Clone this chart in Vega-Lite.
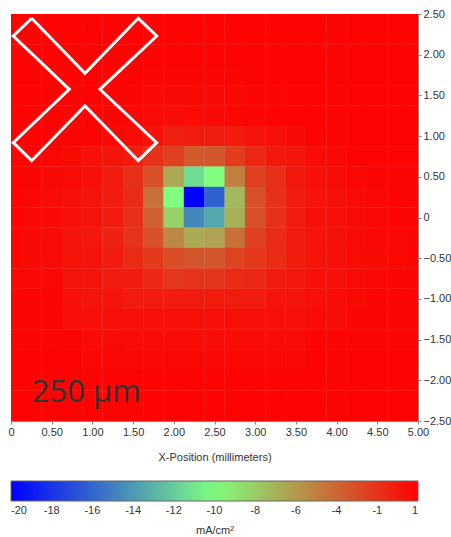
{
"$schema": "https://vega.github.io/schema/vega-lite/v6.json",
"width": 407, "height": 407,
"autosize": "none",
"padding": {"left": 11, "top": 14, "right": 33, "bottom": 116},
"config": {"view": {"stroke": "#888", "strokeWidth": 1}, "font": "Liberation Sans"},
"layer": [
{"data": {"values": [
{"x":0,"y":2.5,"v":0.85},{"x":0.25,"y":2.5,"v":0.85},{"x":0.5,"y":2.5,"v":0.85},{"x":0.75,"y":2.5,"v":0.85},{"x":1,"y":2.5,"v":0.85},{"x":1.25,"y":2.5,"v":0.85},{"x":1.5,"y":2.5,"v":0.85},{"x":1.75,"y":2.5,"v":0.85},{"x":2,"y":2.5,"v":0.85},{"x":2.25,"y":2.5,"v":0.85},{"x":2.5,"y":2.5,"v":0.85},{"x":2.75,"y":2.5,"v":0.85},{"x":3,"y":2.5,"v":0.85},{"x":3.25,"y":2.5,"v":0.85},{"x":3.5,"y":2.5,"v":0.85},{"x":3.75,"y":2.5,"v":0.85},{"x":4,"y":2.5,"v":0.85},{"x":4.25,"y":2.5,"v":0.85},{"x":4.5,"y":2.5,"v":0.85},{"x":4.75,"y":2.5,"v":0.85},{"x":5,"y":2.5,"v":0.85},
{"x":0,"y":2.25,"v":0.85},{"x":0.25,"y":2.25,"v":0.85},{"x":0.5,"y":2.25,"v":0.85},{"x":0.75,"y":2.25,"v":0.85},{"x":1,"y":2.25,"v":0.85},{"x":1.25,"y":2.25,"v":0.85},{"x":1.5,"y":2.25,"v":0.85},{"x":1.75,"y":2.25,"v":0.85},{"x":2,"y":2.25,"v":0.85},{"x":2.25,"y":2.25,"v":0.85},{"x":2.5,"y":2.25,"v":0.85},{"x":2.75,"y":2.25,"v":0.85},{"x":3,"y":2.25,"v":0.85},{"x":3.25,"y":2.25,"v":0.85},{"x":3.5,"y":2.25,"v":0.85},{"x":3.75,"y":2.25,"v":0.85},{"x":4,"y":2.25,"v":0.85},{"x":4.25,"y":2.25,"v":0.85},{"x":4.5,"y":2.25,"v":0.85},{"x":4.75,"y":2.25,"v":0.85},{"x":5,"y":2.25,"v":0.85},
{"x":0,"y":2,"v":0.85},{"x":0.25,"y":2,"v":0.85},{"x":0.5,"y":2,"v":0.85},{"x":0.75,"y":2,"v":0.85},{"x":1,"y":2,"v":0.85},{"x":1.25,"y":2,"v":0.85},{"x":1.5,"y":2,"v":0.85},{"x":1.75,"y":2,"v":0.85},{"x":2,"y":2,"v":0.85},{"x":2.25,"y":2,"v":0.85},{"x":2.5,"y":2,"v":0.85},{"x":2.75,"y":2,"v":0.85},{"x":3,"y":2,"v":0.85},{"x":3.25,"y":2,"v":0.85},{"x":3.5,"y":2,"v":0.85},{"x":3.75,"y":2,"v":0.85},{"x":4,"y":2,"v":0.85},{"x":4.25,"y":2,"v":0.85},{"x":4.5,"y":2,"v":0.85},{"x":4.75,"y":2,"v":0.85},{"x":5,"y":2,"v":0.85},
{"x":0,"y":1.75,"v":0.85},{"x":0.25,"y":1.75,"v":0.85},{"x":0.5,"y":1.75,"v":0.85},{"x":0.75,"y":1.75,"v":0.85},{"x":1,"y":1.75,"v":0.85},{"x":1.25,"y":1.75,"v":0.85},{"x":1.5,"y":1.75,"v":0.85},{"x":1.75,"y":1.75,"v":0.75},{"x":2,"y":1.75,"v":0.75},{"x":2.25,"y":1.75,"v":0.75},{"x":2.5,"y":1.75,"v":0.75},{"x":2.75,"y":1.75,"v":0.75},{"x":3,"y":1.75,"v":0.85},{"x":3.25,"y":1.75,"v":0.85},{"x":3.5,"y":1.75,"v":0.85},{"x":3.75,"y":1.75,"v":0.85},{"x":4,"y":1.75,"v":0.85},{"x":4.25,"y":1.75,"v":0.85},{"x":4.5,"y":1.75,"v":0.85},{"x":4.75,"y":1.75,"v":0.85},{"x":5,"y":1.75,"v":0.85},
{"x":0,"y":1.5,"v":0.85},{"x":0.25,"y":1.5,"v":0.85},{"x":0.5,"y":1.5,"v":0.85},{"x":0.75,"y":1.5,"v":0.85},{"x":1,"y":1.5,"v":0.85},{"x":1.25,"y":1.5,"v":0.75},{"x":1.5,"y":1.5,"v":0.75},{"x":1.75,"y":1.5,"v":0.6},{"x":2,"y":1.5,"v":0.6},{"x":2.25,"y":1.5,"v":0.6},{"x":2.5,"y":1.5,"v":0.6},{"x":2.75,"y":1.5,"v":0.6},{"x":3,"y":1.5,"v":0.75},{"x":3.25,"y":1.5,"v":0.75},{"x":3.5,"y":1.5,"v":0.85},{"x":3.75,"y":1.5,"v":0.85},{"x":4,"y":1.5,"v":0.85},{"x":4.25,"y":1.5,"v":0.85},{"x":4.5,"y":1.5,"v":0.85},{"x":4.75,"y":1.5,"v":0.85},{"x":5,"y":1.5,"v":0.85},
{"x":0,"y":1.25,"v":0.85},{"x":0.25,"y":1.25,"v":0.85},{"x":0.5,"y":1.25,"v":0.85},{"x":0.75,"y":1.25,"v":0.85},{"x":1,"y":1.25,"v":0.85},{"x":1.25,"y":1.25,"v":0.75},{"x":1.5,"y":1.25,"v":0.7},{"x":1.75,"y":1.25,"v":0.5},{"x":2,"y":1.25,"v":0.45},{"x":2.25,"y":1.25,"v":0.55},{"x":2.5,"y":1.25,"v":0.6},{"x":2.75,"y":1.25,"v":0.7},{"x":3,"y":1.25,"v":0.75},{"x":3.25,"y":1.25,"v":0.85},{"x":3.5,"y":1.25,"v":0.85},{"x":3.75,"y":1.25,"v":0.85},{"x":4,"y":1.25,"v":0.85},{"x":4.25,"y":1.25,"v":0.85},{"x":4.5,"y":1.25,"v":0.85},{"x":4.75,"y":1.25,"v":0.85},{"x":5,"y":1.25,"v":0.85},
{"x":0,"y":1,"v":0.85},{"x":0.25,"y":1,"v":0.85},{"x":0.5,"y":1,"v":0.85},{"x":0.75,"y":1,"v":0.85},{"x":1,"y":1,"v":0.85},{"x":1.25,"y":1,"v":0.7},{"x":1.5,"y":1,"v":0.5},{"x":1.75,"y":1,"v":0.3},{"x":2,"y":1,"v":-0.3},{"x":2.25,"y":1,"v":-0.2},{"x":2.5,"y":1,"v":-0.2},{"x":2.75,"y":1,"v":-0.1},{"x":3,"y":1,"v":0.18},{"x":3.25,"y":1,"v":0.34},{"x":3.5,"y":1,"v":0.6},{"x":3.75,"y":1,"v":0.85},{"x":4,"y":1,"v":0.85},{"x":4.25,"y":1,"v":0.85},{"x":4.5,"y":1,"v":0.85},{"x":4.75,"y":1,"v":0.85},{"x":5,"y":1,"v":0.85},
{"x":0,"y":0.75,"v":0.85},{"x":0.25,"y":0.75,"v":0.85},{"x":0.5,"y":0.75,"v":0.75},{"x":0.75,"y":0.75,"v":0.6},{"x":1,"y":0.75,"v":0.34},{"x":1.25,"y":0.75,"v":0.18},{"x":1.5,"y":0.75,"v":-0.15},{"x":1.75,"y":0.75,"v":-0.98},{"x":2,"y":0.75,"v":-1.64},{"x":2.25,"y":0.75,"v":-2.7},{"x":2.5,"y":0.75,"v":-2.6},{"x":2.75,"y":0.75,"v":-1.5},{"x":3,"y":0.75,"v":-0.65},{"x":3.25,"y":0.75,"v":0},{"x":3.5,"y":0.75,"v":0.18},{"x":3.75,"y":0.75,"v":0.5},{"x":4,"y":0.75,"v":0.7},{"x":4.25,"y":0.75,"v":0.85},{"x":4.5,"y":0.75,"v":0.85},{"x":4.75,"y":0.75,"v":0.85},{"x":5,"y":0.75,"v":0.85},
{"x":0,"y":0.5,"v":0.85},{"x":0.25,"y":0.5,"v":0.75},{"x":0.5,"y":0.5,"v":0.6},{"x":0.75,"y":0.5,"v":0.5},{"x":1,"y":0.5,"v":0.34},{"x":1.25,"y":0.5,"v":-0.15},{"x":1.5,"y":0.5,"v":-0.98},{"x":1.75,"y":0.5,"v":-2.3},{"x":2,"y":0.5,"v":-5.9},{"x":2.25,"y":0.5,"v":-10.9},{"x":2.5,"y":0.5,"v":-9.4},{"x":2.75,"y":0.5,"v":-4.27},{"x":3,"y":0.5,"v":-1.64},{"x":3.25,"y":0.5,"v":-0.98},{"x":3.5,"y":0.5,"v":0},{"x":3.75,"y":0.5,"v":0.34},{"x":4,"y":0.5,"v":0.5},{"x":4.25,"y":0.5,"v":0.67},{"x":4.5,"y":0.5,"v":0.8},{"x":4.75,"y":0.5,"v":0.8},{"x":5,"y":0.5,"v":0.8},
{"x":0,"y":0.25,"v":0.8},{"x":0.25,"y":0.25,"v":0.67},{"x":0.5,"y":0.25,"v":0.5},{"x":0.75,"y":0.25,"v":0.34},{"x":1,"y":0.25,"v":0.18},{"x":1.25,"y":0.25,"v":-0.15},{"x":1.5,"y":0.25,"v":-0.8},{"x":1.75,"y":0.25,"v":-3.6},{"x":2,"y":0.25,"v":-9.5},{"x":2.25,"y":0.25,"v":-20},{"x":2.5,"y":0.25,"v":-16},{"x":2.75,"y":0.25,"v":-6.6},{"x":3,"y":0.25,"v":-2.3},{"x":3.25,"y":0.25,"v":-0.98},{"x":3.5,"y":0.25,"v":-0.15},{"x":3.75,"y":0.25,"v":0.18},{"x":4,"y":0.25,"v":0.34},{"x":4.25,"y":0.25,"v":0.5},{"x":4.5,"y":0.25,"v":0.67},{"x":4.75,"y":0.25,"v":0.8},{"x":5,"y":0.25,"v":0.8},
{"x":0,"y":0,"v":0.8},{"x":0.25,"y":0,"v":0.67},{"x":0.5,"y":0,"v":0.6},{"x":0.75,"y":0,"v":0.34},{"x":1,"y":0,"v":0.18},{"x":1.25,"y":0,"v":-0.15},{"x":1.5,"y":0,"v":-0.98},{"x":1.75,"y":0,"v":-2.95},{"x":2,"y":0,"v":-7.6},{"x":2.25,"y":0,"v":-14.4},{"x":2.5,"y":0,"v":-13.1},{"x":2.75,"y":0,"v":-6.25},{"x":3,"y":0,"v":-2.3},{"x":3.25,"y":0,"v":-0.98},{"x":3.5,"y":0,"v":-0.15},{"x":3.75,"y":0,"v":0.34},{"x":4,"y":0,"v":0.4},{"x":4.25,"y":0,"v":0.5},{"x":4.5,"y":0,"v":0.67},{"x":4.75,"y":0,"v":0.8},{"x":5,"y":0,"v":0.8},
{"x":0,"y":-0.25,"v":0.75},{"x":0.25,"y":-0.25,"v":0.6},{"x":0.5,"y":-0.25,"v":0.5},{"x":0.75,"y":-0.25,"v":0.18},{"x":1,"y":-0.25,"v":0},{"x":1.25,"y":-0.25,"v":-0.4},{"x":1.5,"y":-0.25,"v":-1.1},{"x":1.75,"y":-0.25,"v":-2.3},{"x":2,"y":-0.25,"v":-4.5},{"x":2.25,"y":-0.25,"v":-6},{"x":2.5,"y":-0.25,"v":-5.7},{"x":2.75,"y":-0.25,"v":-3.6},{"x":3,"y":-0.25,"v":-1.64},{"x":3.25,"y":-0.25,"v":-0.8},{"x":3.5,"y":-0.25,"v":-0.15},{"x":3.75,"y":-0.25,"v":0.18},{"x":4,"y":-0.25,"v":0.34},{"x":4.25,"y":-0.25,"v":0.5},{"x":4.5,"y":-0.25,"v":0.67},{"x":4.75,"y":-0.25,"v":0.67},{"x":5,"y":-0.25,"v":0.75},
{"x":0,"y":-0.5,"v":0.75},{"x":0.25,"y":-0.5,"v":0.6},{"x":0.5,"y":-0.5,"v":0.5},{"x":0.75,"y":-0.5,"v":0.18},{"x":1,"y":-0.5,"v":0.18},{"x":1.25,"y":-0.5,"v":-0.15},{"x":1.5,"y":-0.5,"v":-0.8},{"x":1.75,"y":-0.5,"v":-1.4},{"x":2,"y":-0.5,"v":-2.2},{"x":2.25,"y":-0.5,"v":-2.6},{"x":2.5,"y":-0.5,"v":-2.6},{"x":2.75,"y":-0.5,"v":-1.8},{"x":3,"y":-0.5,"v":-1.3},{"x":3.25,"y":-0.5,"v":-0.8},{"x":3.5,"y":-0.5,"v":-0.15},{"x":3.75,"y":-0.5,"v":0.18},{"x":4,"y":-0.5,"v":0.34},{"x":4.25,"y":-0.5,"v":0.5},{"x":4.5,"y":-0.5,"v":0.6},{"x":4.75,"y":-0.5,"v":0.67},{"x":5,"y":-0.5,"v":0.75},
{"x":0,"y":-0.75,"v":0.67},{"x":0.25,"y":-0.75,"v":0.67},{"x":0.5,"y":-0.75,"v":0.67},{"x":0.75,"y":-0.75,"v":0.18},{"x":1,"y":-0.75,"v":0.18},{"x":1.25,"y":-0.75,"v":-0.15},{"x":1.5,"y":-0.75,"v":-0.15},{"x":1.75,"y":-0.75,"v":-0.65},{"x":2,"y":-0.75,"v":-1.3},{"x":2.25,"y":-0.75,"v":-1.2},{"x":2.5,"y":-0.75,"v":-1.2},{"x":2.75,"y":-0.75,"v":-0.8},{"x":3,"y":-0.75,"v":-0.65},{"x":3.25,"y":-0.75,"v":-0.15},{"x":3.5,"y":-0.75,"v":0.05},{"x":3.75,"y":-0.75,"v":0.34},{"x":4,"y":-0.75,"v":0.34},{"x":4.25,"y":-0.75,"v":0.5},{"x":4.5,"y":-0.75,"v":0.67},{"x":4.75,"y":-0.75,"v":0.75},{"x":5,"y":-0.75,"v":0.8},
{"x":0,"y":-1,"v":0.75},{"x":0.25,"y":-1,"v":0.75},{"x":0.5,"y":-1,"v":0.75},{"x":0.75,"y":-1,"v":0.34},{"x":1,"y":-1,"v":0.18},{"x":1.25,"y":-1,"v":0.18},{"x":1.5,"y":-1,"v":-0.15},{"x":1.75,"y":-1,"v":-0.15},{"x":2,"y":-1,"v":-0.15},{"x":2.25,"y":-1,"v":-0.15},{"x":2.5,"y":-1,"v":-0.15},{"x":2.75,"y":-1,"v":-0.15},{"x":3,"y":-1,"v":-0.15},{"x":3.25,"y":-1,"v":0.18},{"x":3.5,"y":-1,"v":0.18},{"x":3.75,"y":-1,"v":0.34},{"x":4,"y":-1,"v":0.5},{"x":4.25,"y":-1,"v":0.6},{"x":4.5,"y":-1,"v":0.75},{"x":4.75,"y":-1,"v":0.75},{"x":5,"y":-1,"v":0.75},
{"x":0,"y":-1.25,"v":0.75},{"x":0.25,"y":-1.25,"v":0.75},{"x":0.5,"y":-1.25,"v":0.75},{"x":0.75,"y":-1.25,"v":0.34},{"x":1,"y":-1.25,"v":0.34},{"x":1.25,"y":-1.25,"v":0.34},{"x":1.5,"y":-1.25,"v":0.34},{"x":1.75,"y":-1.25,"v":0.34},{"x":2,"y":-1.25,"v":0.34},{"x":2.25,"y":-1.25,"v":0.34},{"x":2.5,"y":-1.25,"v":0.34},{"x":2.75,"y":-1.25,"v":0.34},{"x":3,"y":-1.25,"v":0.34},{"x":3.25,"y":-1.25,"v":0.34},{"x":3.5,"y":-1.25,"v":0.34},{"x":3.75,"y":-1.25,"v":0.5},{"x":4,"y":-1.25,"v":0.5},{"x":4.25,"y":-1.25,"v":0.75},{"x":4.5,"y":-1.25,"v":0.75},{"x":4.75,"y":-1.25,"v":0.75},{"x":5,"y":-1.25,"v":0.75},
{"x":0,"y":-1.5,"v":0.8},{"x":0.25,"y":-1.5,"v":0.8},{"x":0.5,"y":-1.5,"v":0.8},{"x":0.75,"y":-1.5,"v":0.8},{"x":1,"y":-1.5,"v":0.5},{"x":1.25,"y":-1.5,"v":0.5},{"x":1.5,"y":-1.5,"v":0.5},{"x":1.75,"y":-1.5,"v":0.5},{"x":2,"y":-1.5,"v":0.5},{"x":2.25,"y":-1.5,"v":0.5},{"x":2.5,"y":-1.5,"v":0.5},{"x":2.75,"y":-1.5,"v":0.5},{"x":3,"y":-1.5,"v":0.5},{"x":3.25,"y":-1.5,"v":0.5},{"x":3.5,"y":-1.5,"v":0.5},{"x":3.75,"y":-1.5,"v":0.8},{"x":4,"y":-1.5,"v":0.8},{"x":4.25,"y":-1.5,"v":0.8},{"x":4.5,"y":-1.5,"v":0.8},{"x":4.75,"y":-1.5,"v":0.8},{"x":5,"y":-1.5,"v":0.8},
{"x":0,"y":-1.75,"v":0.85},{"x":0.25,"y":-1.75,"v":0.85},{"x":0.5,"y":-1.75,"v":0.85},{"x":0.75,"y":-1.75,"v":0.85},{"x":1,"y":-1.75,"v":0.65},{"x":1.25,"y":-1.75,"v":0.65},{"x":1.5,"y":-1.75,"v":0.65},{"x":1.75,"y":-1.75,"v":0.65},{"x":2,"y":-1.75,"v":0.65},{"x":2.25,"y":-1.75,"v":0.65},{"x":2.5,"y":-1.75,"v":0.65},{"x":2.75,"y":-1.75,"v":0.65},{"x":3,"y":-1.75,"v":0.65},{"x":3.25,"y":-1.75,"v":0.65},{"x":3.5,"y":-1.75,"v":0.65},{"x":3.75,"y":-1.75,"v":0.85},{"x":4,"y":-1.75,"v":0.85},{"x":4.25,"y":-1.75,"v":0.85},{"x":4.5,"y":-1.75,"v":0.85},{"x":4.75,"y":-1.75,"v":0.85},{"x":5,"y":-1.75,"v":0.85},
{"x":0,"y":-2,"v":0.85},{"x":0.25,"y":-2,"v":0.85},{"x":0.5,"y":-2,"v":0.85},{"x":0.75,"y":-2,"v":0.85},{"x":1,"y":-2,"v":0.85},{"x":1.25,"y":-2,"v":0.85},{"x":1.5,"y":-2,"v":0.85},{"x":1.75,"y":-2,"v":0.85},{"x":2,"y":-2,"v":0.85},{"x":2.25,"y":-2,"v":0.85},{"x":2.5,"y":-2,"v":0.85},{"x":2.75,"y":-2,"v":0.85},{"x":3,"y":-2,"v":0.85},{"x":3.25,"y":-2,"v":0.85},{"x":3.5,"y":-2,"v":0.85},{"x":3.75,"y":-2,"v":0.85},{"x":4,"y":-2,"v":0.85},{"x":4.25,"y":-2,"v":0.85},{"x":4.5,"y":-2,"v":0.85},{"x":4.75,"y":-2,"v":0.85},{"x":5,"y":-2,"v":0.85},
{"x":0,"y":-2.25,"v":0.85},{"x":0.25,"y":-2.25,"v":0.85},{"x":0.5,"y":-2.25,"v":0.85},{"x":0.75,"y":-2.25,"v":0.85},{"x":1,"y":-2.25,"v":0.85},{"x":1.25,"y":-2.25,"v":0.85},{"x":1.5,"y":-2.25,"v":0.85},{"x":1.75,"y":-2.25,"v":0.85},{"x":2,"y":-2.25,"v":0.85},{"x":2.25,"y":-2.25,"v":0.85},{"x":2.5,"y":-2.25,"v":0.85},{"x":2.75,"y":-2.25,"v":0.85},{"x":3,"y":-2.25,"v":0.85},{"x":3.25,"y":-2.25,"v":0.85},{"x":3.5,"y":-2.25,"v":0.85},{"x":3.75,"y":-2.25,"v":0.85},{"x":4,"y":-2.25,"v":0.85},{"x":4.25,"y":-2.25,"v":0.85},{"x":4.5,"y":-2.25,"v":0.85},{"x":4.75,"y":-2.25,"v":0.85},{"x":5,"y":-2.25,"v":0.85},
{"x":0,"y":-2.5,"v":0.85},{"x":0.25,"y":-2.5,"v":0.85},{"x":0.5,"y":-2.5,"v":0.85},{"x":0.75,"y":-2.5,"v":0.85},{"x":1,"y":-2.5,"v":0.85},{"x":1.25,"y":-2.5,"v":0.85},{"x":1.5,"y":-2.5,"v":0.85},{"x":1.75,"y":-2.5,"v":0.85},{"x":2,"y":-2.5,"v":0.85},{"x":2.25,"y":-2.5,"v":0.85},{"x":2.5,"y":-2.5,"v":0.85},{"x":2.75,"y":-2.5,"v":0.85},{"x":3,"y":-2.5,"v":0.85},{"x":3.25,"y":-2.5,"v":0.85},{"x":3.5,"y":-2.5,"v":0.85},{"x":3.75,"y":-2.5,"v":0.85},{"x":4,"y":-2.5,"v":0.85},{"x":4.25,"y":-2.5,"v":0.85},{"x":4.5,"y":-2.5,"v":0.85},{"x":4.75,"y":-2.5,"v":0.85},{"x":5,"y":-2.5,"v":0.85}
]},
"mark": {"type": "rect", "width": 20.7, "height": 20.7, "clip": true},
"encoding": {
 "x": {"field": "x", "type": "quantitative", "scale": {"domain": [0, 5], "nice": false, "zero": false},
  "axis": {"title": "X-Position (millimeters)", "values": [0,0.5,1,1.5,2,2.5,3,3.5,4,4.5,5], "labelExpr": "datum.value == 0 ? '0' : format(datum.value, '.2f')", "labelFontSize": 11, "labelColor": "#333", "labelFlush": false, "tickSize": 3, "tickColor": "#888", "domainColor": "#888", "labelPadding": 2, "titleFontSize": 11, "titleFontWeight": "normal", "titleColor": "#333", "titlePadding": 14, "grid": false}},
 "y": {"field": "y", "type": "quantitative", "scale": {"domain": [-2.5, 2.5], "nice": false, "zero": false},
  "axis": {"orient": "right", "title": null, "values": [-2.5,-2,-1.5,-1,-0.5,0,0.5,1,1.5,2,2.5], "labelExpr": "datum.value == 0 ? '0' : format(datum.value, '.2f')", "labelFontSize": 11, "labelColor": "#333", "labelFlush": false, "tickSize": 3, "tickColor": "#888", "domainColor": "#888", "labelPadding": 2, "grid": false}},
 "color": {"field": "v", "type": "quantitative",
  "scale": {"domain": [-20, -9.5, 1], "range": ["#0000ff", "#80ff80", "#ff0000"], "interpolate": "rgb"},
  "legend": {"orient": "none", "legendX": 0, "legendY": 467, "direction": "horizontal", "gradientLength": 407, "gradientThickness": 20, "gradientStrokeColor": "#666", "gradientStrokeWidth": 1, "title": "mA/cm²", "titleOrient": "bottom", "titleAnchor": "middle", "titleFontSize": 11, "titleFontWeight": "normal", "titleColor": "#333", "titlePadding": 9, "labelFontSize": 11, "labelColor": "#333", "labelAlign": "center", "labelOffset": 4, "labelOverlap": false, "padding": 0,
   "values": [-20, -17.9, -15.8, -13.7, -11.6, -9.5, -7.4, -5.3, -3.2, -1.1, 1],
   "labelExpr": "datum.value < -19 ? '-20' : datum.value < -17 ? '-18' : datum.value < -15 ? '-16' : datum.value < -13 ? '-14' : datum.value < -11 ? '-12' : datum.value < -9 ? '-10' : datum.value < -7 ? '-8' : datum.value < -5 ? '-6' : datum.value < -3 ? '-4' : datum.value < 0 ? '-1' : '1'"}}
}},
{"data": {"values": [
 {"i":0,"x":0.254,"y":2.447},{"i":1,"x":0.028,"y":2.23},{"i":2,"x":0.716,"y":1.575},{"i":3,"x":0.028,"y":0.919},{"i":4,"x":0.254,"y":0.698},{"i":5,"x":0.909,"y":1.37},{"i":6,"x":1.564,"y":0.698},{"i":7,"x":1.79,"y":0.919},{"i":8,"x":1.093,"y":1.575},{"i":9,"x":1.79,"y":2.23},{"i":10,"x":1.564,"y":2.447},{"i":11,"x":0.909,"y":1.771},{"i":12,"x":0.254,"y":2.447}
]},
"mark": {"type": "line", "color": "#ffffff", "strokeWidth": 3, "strokeJoin": "miter", "clip": true},
"encoding": {"x": {"field": "x", "type": "quantitative"}, "y": {"field": "y", "type": "quantitative"}, "order": {"field": "i", "type": "quantitative"}}
},
{"data": {"values": [{"label": "250 µm"}]},
"mark": {"type": "text", "font": "Open Sans", "fontSize": 31, "color": "#333333", "align": "left", "baseline": "alphabetic"},
"encoding": {"text": {"field": "label"}, "x": {"datum": 0.254}, "y": {"datum": -2.267}}
}
]
}
